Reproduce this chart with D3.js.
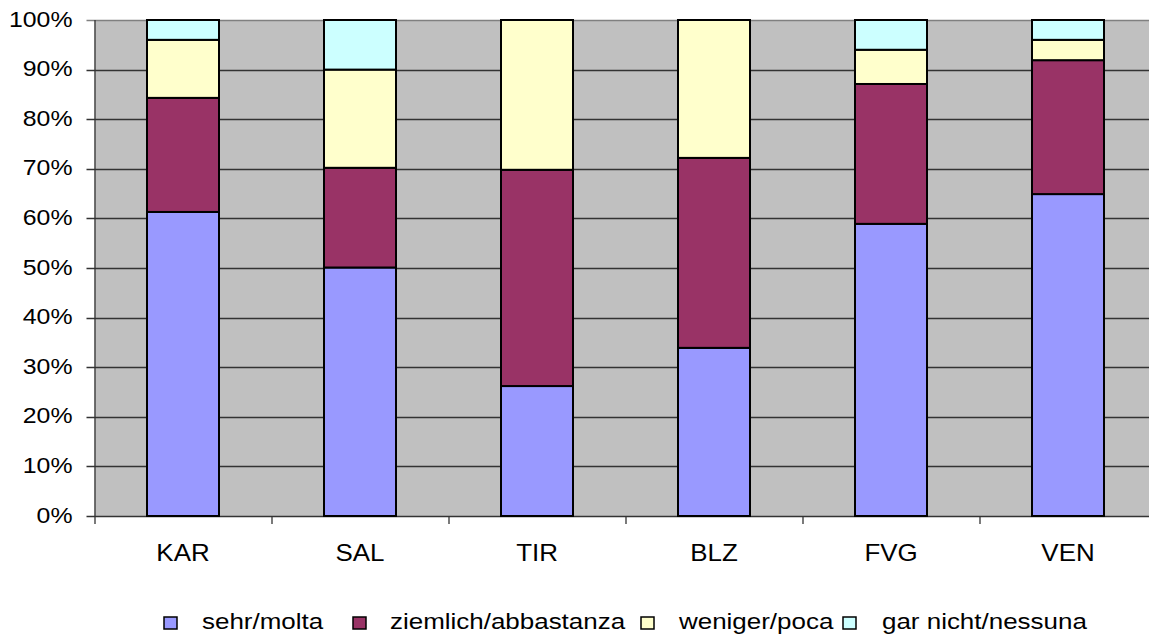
<!DOCTYPE html>
<html>
<head>
<meta charset="utf-8">
<script src="https://cdn.jsdelivr.net/npm/d3@7"></script>
<style>
  body { margin: 0; background: #fff; }
  svg { display: block; font-family: "Liberation Sans", Arial, sans-serif; }
</style>
</head>
<body>
<svg id="chart" width="1149" height="637"></svg>
<script>
// categories and series (percent shares)
const regions = ["KAR", "SAL", "TIR", "BLZ", "FVG", "VEN"];
const seriesNames = ["sehr/molta", "ziemlich/abbastanza", "weniger/poca", "gar nicht/nessuna"];
const sehr     = [61.3, 50.1, 26.2, 33.9, 58.9, 64.9];
const ziemlich = [23.0, 20.1, 43.6, 38.3, 28.2, 27.0];
const weniger  = [11.7, 19.8, 30.2, 27.8, 6.9, 4.1];
const garNicht = [4.0, 10.0, 0.0, 0.0, 6.0, 4.0];
const yTicks = [0, 10, 20, 30, 40, 50, 60, 70, 80, 90, 100];
const colors = ["#9999FF", "#993366", "#FFFFCC", "#CCFFFF"];

const svg = d3.select("#chart");

// plot area (right edge runs past the window, as in the original)
const margin = { top: 20, left: 94.5 };
const plotW = 1062, plotH = 496;

const rows = regions.map((r, i) => ({
    region: r,
    [seriesNames[0]]: sehr[i],
    [seriesNames[1]]: ziemlich[i],
    [seriesNames[2]]: weniger[i],
    [seriesNames[3]]: garNicht[i]
}));

const stacked = d3.stack().keys(seriesNames).offset(d3.stackOffsetExpand)(rows);

const x = d3.scaleBand().domain(regions).range([0, plotW]).paddingInner(0).paddingOuter(0);
const y = d3.scaleLinear().domain([0, 1]).range([plotH, 0]);

const g = svg.append("g").attr("transform", `translate(${margin.left},${margin.top})`);

// background
g.append("rect")
    .attr("width", plotW).attr("height", plotH)
    .attr("fill", "#C0C0C0");

// gridlines
g.append("g")
    .selectAll("line")
    .data(yTicks)
    .enter().append("line")
    .attr("x1", -8).attr("x2", plotW)
    .attr("y1", d => Math.round(y(d / 100)) + 0.5)
    .attr("y2", d => Math.round(y(d / 100)) + 0.5)
    .attr("stroke", d => d === 100 ? "#808080" : "#333")
    .attr("stroke-width", 1.3);

// y labels (original text is a bit wider than the font, so stretch it)
g.append("g")
    .selectAll("text")
    .data(yTicks)
    .enter().append("text")
    .attr("transform", d => `translate(-22,${y(d / 100)}) scale(1.13,1)`)
    .attr("dy", "0.3em")
    .attr("text-anchor", "end")
    .attr("font-size", 22)
    .attr("fill", "#000")
    .text(d => d + "%");

// bars
const barW = 72;
const layers = g.selectAll("g.layer")
    .data(stacked)
    .enter().append("g")
    .attr("class", "layer")
    .attr("fill", (d, i) => colors[i]);

layers.selectAll("rect")
    .data(d => d.filter(s => s[1] - s[0] > 0))
    .enter().append("rect")
    .attr("x", d => x(d.data.region) + x.bandwidth() / 2 - barW / 2)
    .attr("y", d => y(d[1]))
    .attr("width", barW)
    .attr("height", d => y(d[0]) - y(d[1]))
    .attr("stroke", "#000")
    .attr("stroke-width", 2);

// left axis line
g.append("line")
    .attr("x1", 0.5).attr("x2", 0.5)
    .attr("y1", 0).attr("y2", plotH + 8)
    .attr("stroke", "#333").attr("stroke-width", 1.3);

// x ticks at category boundaries
g.append("g")
    .selectAll("line")
    .data(regions.slice(1))
    .enter().append("line")
    .attr("x1", d => Math.round(x(d)) + 0.5)
    .attr("x2", d => Math.round(x(d)) + 0.5)
    .attr("y1", plotH).attr("y2", plotH + 8)
    .attr("stroke", "#333").attr("stroke-width", 1.3);

// x labels
g.append("g")
    .selectAll("text")
    .data(regions)
    .enter().append("text")
    .attr("transform", d => `translate(${x(d) + x.bandwidth() / 2},${plotH + 45}) scale(1.08,1)`)
    .attr("text-anchor", "middle")
    .attr("font-size", 24)
    .attr("fill", "#000")
    .text(d => d);

// legend
const legendBoxX = [163, 352, 640, 842];
const legendTextX = [202, 390, 679, 882];
const legend = svg.append("g")
    .selectAll("g")
    .data(seriesNames)
    .enter().append("g");

legend.append("rect")
    .attr("x", (d, i) => legendBoxX[i] + 1)
    .attr("y", 617)
    .attr("width", 13).attr("height", 12)
    .attr("fill", (d, i) => colors[i])
    .attr("stroke", "#000").attr("stroke-width", 1.5);

legend.append("text")
    .attr("transform", (d, i) => `translate(${legendTextX[i]},629) scale(1.18,1)`)
    .attr("font-size", 22)
    .attr("fill", "#000")
    .text(d => d);
</script>
</body>
</html>
